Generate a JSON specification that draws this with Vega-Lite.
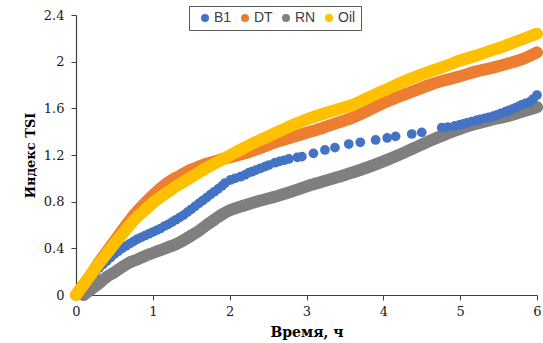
{
  "$schema": "https://vega.github.io/schema/vega-lite/v6.json",
  "width": 461,
  "height": 280,
  "autosize": {"type": "none"},
  "padding": {"left": 76, "top": 15, "right": 6, "bottom": 48},
  "background": "white",
  "config": {
    "view": {"stroke": null},
    "axis": {
      "grid": false,
      "domainColor": "#404040",
      "domainWidth": 1.2,
      "tickColor": "#404040",
      "tickSize": 5,
      "labelFlush": false,
      "labelFont": "DejaVu Serif",
      "labelFontSize": 13,
      "labelColor": "#1a1a1a",
      "titleFont": "DejaVu Serif",
      "titleFontWeight": "bold",
      "titleColor": "#000000"
    }
  },
  "datasets": {
    "tsi": [
      {"series": "RN", "t": 0.1, "v": 0.0},
      {"series": "RN", "t": 0.2, "v": 0.05},
      {"series": "RN", "t": 0.3, "v": 0.1},
      {"series": "RN", "t": 0.4, "v": 0.155},
      {"series": "RN", "t": 0.5, "v": 0.195},
      {"series": "RN", "t": 0.6, "v": 0.24},
      {"series": "RN", "t": 0.7, "v": 0.28},
      {"series": "RN", "t": 0.8, "v": 0.305},
      {"series": "RN", "t": 0.9, "v": 0.335},
      {"series": "RN", "t": 1.0, "v": 0.36},
      {"series": "RN", "t": 1.1, "v": 0.385},
      {"series": "RN", "t": 1.2, "v": 0.41},
      {"series": "RN", "t": 1.3, "v": 0.435},
      {"series": "RN", "t": 1.4, "v": 0.47},
      {"series": "RN", "t": 1.5, "v": 0.51},
      {"series": "RN", "t": 1.6, "v": 0.55},
      {"series": "RN", "t": 1.7, "v": 0.6},
      {"series": "RN", "t": 1.8, "v": 0.645},
      {"series": "RN", "t": 1.9, "v": 0.69},
      {"series": "RN", "t": 2.0, "v": 0.725},
      {"series": "RN", "t": 2.2, "v": 0.77},
      {"series": "RN", "t": 2.4, "v": 0.81},
      {"series": "RN", "t": 2.6, "v": 0.845},
      {"series": "RN", "t": 2.8, "v": 0.885},
      {"series": "RN", "t": 3.0, "v": 0.93},
      {"series": "RN", "t": 3.2, "v": 0.97},
      {"series": "RN", "t": 3.4, "v": 1.01},
      {"series": "RN", "t": 3.6, "v": 1.05},
      {"series": "RN", "t": 3.8, "v": 1.095},
      {"series": "RN", "t": 4.0, "v": 1.145},
      {"series": "RN", "t": 4.2, "v": 1.2},
      {"series": "RN", "t": 4.4, "v": 1.26},
      {"series": "RN", "t": 4.6, "v": 1.32},
      {"series": "RN", "t": 4.8, "v": 1.375},
      {"series": "RN", "t": 5.0, "v": 1.425},
      {"series": "RN", "t": 5.2, "v": 1.465},
      {"series": "RN", "t": 5.4, "v": 1.5},
      {"series": "RN", "t": 5.6, "v": 1.53},
      {"series": "RN", "t": 5.8, "v": 1.57},
      {"series": "RN", "t": 6.0, "v": 1.61},

      {"series": "B1", "t": 0.0, "v": 0.0},
      {"series": "B1", "t": 0.05, "v": 0.04},
      {"series": "B1", "t": 0.1, "v": 0.08},
      {"series": "B1", "t": 0.15, "v": 0.12},
      {"series": "B1", "t": 0.2, "v": 0.16},
      {"series": "B1", "t": 0.25, "v": 0.19},
      {"series": "B1", "t": 0.3, "v": 0.23},
      {"series": "B1", "t": 0.35, "v": 0.26},
      {"series": "B1", "t": 0.4, "v": 0.29},
      {"series": "B1", "t": 0.45, "v": 0.32},
      {"series": "B1", "t": 0.5, "v": 0.35},
      {"series": "B1", "t": 0.55, "v": 0.375},
      {"series": "B1", "t": 0.6, "v": 0.4},
      {"series": "B1", "t": 0.65, "v": 0.42},
      {"series": "B1", "t": 0.7, "v": 0.44},
      {"series": "B1", "t": 0.75, "v": 0.46},
      {"series": "B1", "t": 0.8, "v": 0.48},
      {"series": "B1", "t": 0.85, "v": 0.495},
      {"series": "B1", "t": 0.9, "v": 0.51},
      {"series": "B1", "t": 0.95, "v": 0.525},
      {"series": "B1", "t": 1.0, "v": 0.54},
      {"series": "B1", "t": 1.05, "v": 0.555},
      {"series": "B1", "t": 1.1, "v": 0.57},
      {"series": "B1", "t": 1.15, "v": 0.59},
      {"series": "B1", "t": 1.2, "v": 0.605},
      {"series": "B1", "t": 1.25, "v": 0.625},
      {"series": "B1", "t": 1.3, "v": 0.645},
      {"series": "B1", "t": 1.35, "v": 0.665},
      {"series": "B1", "t": 1.4, "v": 0.685},
      {"series": "B1", "t": 1.45, "v": 0.71},
      {"series": "B1", "t": 1.5, "v": 0.735},
      {"series": "B1", "t": 1.55, "v": 0.76},
      {"series": "B1", "t": 1.6, "v": 0.785},
      {"series": "B1", "t": 1.65, "v": 0.81},
      {"series": "B1", "t": 1.7, "v": 0.835},
      {"series": "B1", "t": 1.75, "v": 0.86},
      {"series": "B1", "t": 1.8, "v": 0.885},
      {"series": "B1", "t": 1.85, "v": 0.91},
      {"series": "B1", "t": 1.9, "v": 0.935},
      {"series": "B1", "t": 1.94, "v": 0.96},
      {"series": "B1", "t": 2.01, "v": 0.986},
      {"series": "B1", "t": 2.07, "v": 1.0},
      {"series": "B1", "t": 2.14, "v": 1.014},
      {"series": "B1", "t": 2.2, "v": 1.03},
      {"series": "B1", "t": 2.25, "v": 1.049},
      {"series": "B1", "t": 2.29, "v": 1.057},
      {"series": "B1", "t": 2.34, "v": 1.07},
      {"series": "B1", "t": 2.4, "v": 1.086},
      {"series": "B1", "t": 2.46, "v": 1.1},
      {"series": "B1", "t": 2.51, "v": 1.114},
      {"series": "B1", "t": 2.59, "v": 1.134},
      {"series": "B1", "t": 2.65, "v": 1.145},
      {"series": "B1", "t": 2.71, "v": 1.155},
      {"series": "B1", "t": 2.77, "v": 1.166},
      {"series": "B1", "t": 2.88, "v": 1.18},
      {"series": "B1", "t": 2.94, "v": 1.186},
      {"series": "B1", "t": 3.09, "v": 1.214},
      {"series": "B1", "t": 3.24, "v": 1.243},
      {"series": "B1", "t": 3.37, "v": 1.263},
      {"series": "B1", "t": 3.55, "v": 1.294},
      {"series": "B1", "t": 3.7, "v": 1.309},
      {"series": "B1", "t": 3.9, "v": 1.329},
      {"series": "B1", "t": 4.05, "v": 1.346},
      {"series": "B1", "t": 4.16, "v": 1.36},
      {"series": "B1", "t": 4.37, "v": 1.38},
      {"series": "B1", "t": 4.5, "v": 1.394},
      {"series": "B1", "t": 4.76, "v": 1.434},
      {"series": "B1", "t": 4.84, "v": 1.44},
      {"series": "B1", "t": 4.93, "v": 1.449},
      {"series": "B1", "t": 4.99, "v": 1.458},
      {"series": "B1", "t": 5.04, "v": 1.466},
      {"series": "B1", "t": 5.09, "v": 1.476},
      {"series": "B1", "t": 5.15, "v": 1.486},
      {"series": "B1", "t": 5.21, "v": 1.496},
      {"series": "B1", "t": 5.26, "v": 1.506},
      {"series": "B1", "t": 5.32, "v": 1.515},
      {"series": "B1", "t": 5.37, "v": 1.523},
      {"series": "B1", "t": 5.43, "v": 1.533},
      {"series": "B1", "t": 5.48, "v": 1.543},
      {"series": "B1", "t": 5.53, "v": 1.556},
      {"series": "B1", "t": 5.59, "v": 1.571},
      {"series": "B1", "t": 5.63, "v": 1.58},
      {"series": "B1", "t": 5.67, "v": 1.591},
      {"series": "B1", "t": 5.72, "v": 1.605},
      {"series": "B1", "t": 5.76, "v": 1.617},
      {"series": "B1", "t": 5.8, "v": 1.629},
      {"series": "B1", "t": 5.85, "v": 1.642},
      {"series": "B1", "t": 5.91, "v": 1.657},
      {"series": "B1", "t": 5.95, "v": 1.68},
      {"series": "B1", "t": 6.0, "v": 1.714},

      {"series": "DT", "t": 0.0, "v": 0.0},
      {"series": "DT", "t": 0.1, "v": 0.09},
      {"series": "DT", "t": 0.2, "v": 0.18},
      {"series": "DT", "t": 0.3, "v": 0.28},
      {"series": "DT", "t": 0.4, "v": 0.37},
      {"series": "DT", "t": 0.5, "v": 0.46},
      {"series": "DT", "t": 0.6, "v": 0.55},
      {"series": "DT", "t": 0.7, "v": 0.64},
      {"series": "DT", "t": 0.8, "v": 0.72},
      {"series": "DT", "t": 0.9, "v": 0.79},
      {"series": "DT", "t": 1.0, "v": 0.855},
      {"series": "DT", "t": 1.1, "v": 0.915},
      {"series": "DT", "t": 1.2, "v": 0.965},
      {"series": "DT", "t": 1.3, "v": 1.005},
      {"series": "DT", "t": 1.4, "v": 1.04},
      {"series": "DT", "t": 1.5, "v": 1.075},
      {"series": "DT", "t": 1.6, "v": 1.1},
      {"series": "DT", "t": 1.7, "v": 1.125},
      {"series": "DT", "t": 1.8, "v": 1.145},
      {"series": "DT", "t": 1.9, "v": 1.165},
      {"series": "DT", "t": 2.0, "v": 1.18},
      {"series": "DT", "t": 2.2, "v": 1.215},
      {"series": "DT", "t": 2.4, "v": 1.26},
      {"series": "DT", "t": 2.6, "v": 1.31},
      {"series": "DT", "t": 2.8, "v": 1.35},
      {"series": "DT", "t": 3.0, "v": 1.39},
      {"series": "DT", "t": 3.2, "v": 1.43},
      {"series": "DT", "t": 3.4, "v": 1.475},
      {"series": "DT", "t": 3.6, "v": 1.52},
      {"series": "DT", "t": 3.8, "v": 1.58},
      {"series": "DT", "t": 4.0, "v": 1.645},
      {"series": "DT", "t": 4.2, "v": 1.7},
      {"series": "DT", "t": 4.4, "v": 1.75},
      {"series": "DT", "t": 4.6, "v": 1.8},
      {"series": "DT", "t": 4.8, "v": 1.84},
      {"series": "DT", "t": 5.0, "v": 1.875},
      {"series": "DT", "t": 5.2, "v": 1.915},
      {"series": "DT", "t": 5.4, "v": 1.945},
      {"series": "DT", "t": 5.6, "v": 1.98},
      {"series": "DT", "t": 5.8, "v": 2.02},
      {"series": "DT", "t": 6.0, "v": 2.08},

      {"series": "Oil", "t": 0.0, "v": 0.0},
      {"series": "Oil", "t": 0.1, "v": 0.09},
      {"series": "Oil", "t": 0.2, "v": 0.18},
      {"series": "Oil", "t": 0.3, "v": 0.27},
      {"series": "Oil", "t": 0.4, "v": 0.355},
      {"series": "Oil", "t": 0.5, "v": 0.44},
      {"series": "Oil", "t": 0.6, "v": 0.52},
      {"series": "Oil", "t": 0.7, "v": 0.6},
      {"series": "Oil", "t": 0.8, "v": 0.67},
      {"series": "Oil", "t": 0.9, "v": 0.73},
      {"series": "Oil", "t": 1.0, "v": 0.79},
      {"series": "Oil", "t": 1.1, "v": 0.84},
      {"series": "Oil", "t": 1.2, "v": 0.885},
      {"series": "Oil", "t": 1.3, "v": 0.93},
      {"series": "Oil", "t": 1.4, "v": 0.97},
      {"series": "Oil", "t": 1.5, "v": 1.01},
      {"series": "Oil", "t": 1.6, "v": 1.05},
      {"series": "Oil", "t": 1.7, "v": 1.09},
      {"series": "Oil", "t": 1.8, "v": 1.125},
      {"series": "Oil", "t": 1.9, "v": 1.16},
      {"series": "Oil", "t": 2.0, "v": 1.195},
      {"series": "Oil", "t": 2.2, "v": 1.265},
      {"series": "Oil", "t": 2.4, "v": 1.33},
      {"series": "Oil", "t": 2.6, "v": 1.39},
      {"series": "Oil", "t": 2.8, "v": 1.45},
      {"series": "Oil", "t": 3.0, "v": 1.505},
      {"series": "Oil", "t": 3.2, "v": 1.55},
      {"series": "Oil", "t": 3.4, "v": 1.59},
      {"series": "Oil", "t": 3.6, "v": 1.63},
      {"series": "Oil", "t": 3.8, "v": 1.69},
      {"series": "Oil", "t": 4.0, "v": 1.75},
      {"series": "Oil", "t": 4.2, "v": 1.81},
      {"series": "Oil", "t": 4.4, "v": 1.865},
      {"series": "Oil", "t": 4.6, "v": 1.915},
      {"series": "Oil", "t": 4.8, "v": 1.96},
      {"series": "Oil", "t": 5.0, "v": 2.01},
      {"series": "Oil", "t": 5.2, "v": 2.05},
      {"series": "Oil", "t": 5.4, "v": 2.095},
      {"series": "Oil", "t": 5.6, "v": 2.14},
      {"series": "Oil", "t": 5.8, "v": 2.19},
      {"series": "Oil", "t": 6.0, "v": 2.24}
    ]
  },
  "data": {"name": "tsi"},
  "encoding": {
    "x": {
      "field": "t",
      "type": "quantitative",
      "scale": {"domain": [0, 6], "nice": false, "zero": true},
      "axis": {
        "values": [0, 1, 2, 3, 4, 5, 6],
        "format": "~g",
        "labelPadding": 5,
        "title": "Время, ч",
        "titleFontSize": 14,
        "titlePadding": 7
      }
    },
    "y": {
      "field": "v",
      "type": "quantitative",
      "scale": {"domain": [0, 2.4], "nice": false},
      "axis": {
        "values": [0, 0.4, 0.8, 1.2, 1.6, 2, 2.4],
        "format": "~g",
        "labelPadding": 7,
        "title": "Индекс TSI",
        "titleFontSize": 13,
        "titlePadding": 6
      }
    }
  },
  "layer": [
    {
      "transform": [{"filter": "datum.series === 'RN'"}],
      "mark": {"type": "line", "color": "#7F7F7F", "strokeWidth": 12, "strokeCap": "round", "strokeJoin": "round", "interpolate": "monotone"}
    },
    {
      "transform": [{"filter": "datum.series === 'B1'"}],
      "mark": {"type": "point", "shape": "circle", "filled": true, "size": 95, "opacity": 1},
      "encoding": {
        "color": {
          "field": "series", "type": "nominal",
          "scale": {"domain": ["B1", "DT", "RN", "Oil"], "range": ["#4472C4", "#ED7D31", "#7F7F7F", "#FFC000"]},
          "legend": {
            "title": null,
            "orient": "none",
            "legendX": 113,
            "legendY": -9,
            "direction": "horizontal",
            "columns": 4,
            "symbolType": "circle",
            "symbolSize": 64,
            "symbolOpacity": 1,
            "symbolStrokeWidth": 0,
            "symbolOffset": 4,
            "labelFont": "Liberation Sans",
            "labelFontSize": 14,
            "labelColor": "#404040",
            "labelOffset": 2,
            "columnPadding": 2,
            "padding": 5,
            "strokeColor": "#595959",
            "fillColor": "white"
          }
        }
      }
    },
    {
      "transform": [{"filter": "datum.series === 'DT'"}],
      "mark": {"type": "line", "color": "#ED7D31", "strokeWidth": 12, "strokeCap": "round", "strokeJoin": "round", "interpolate": "monotone"}
    },
    {
      "transform": [{"filter": "datum.series === 'Oil'"}],
      "mark": {"type": "line", "color": "#FFC000", "strokeWidth": 12, "strokeCap": "round", "strokeJoin": "round", "interpolate": "monotone"}
    }
  ]
}
